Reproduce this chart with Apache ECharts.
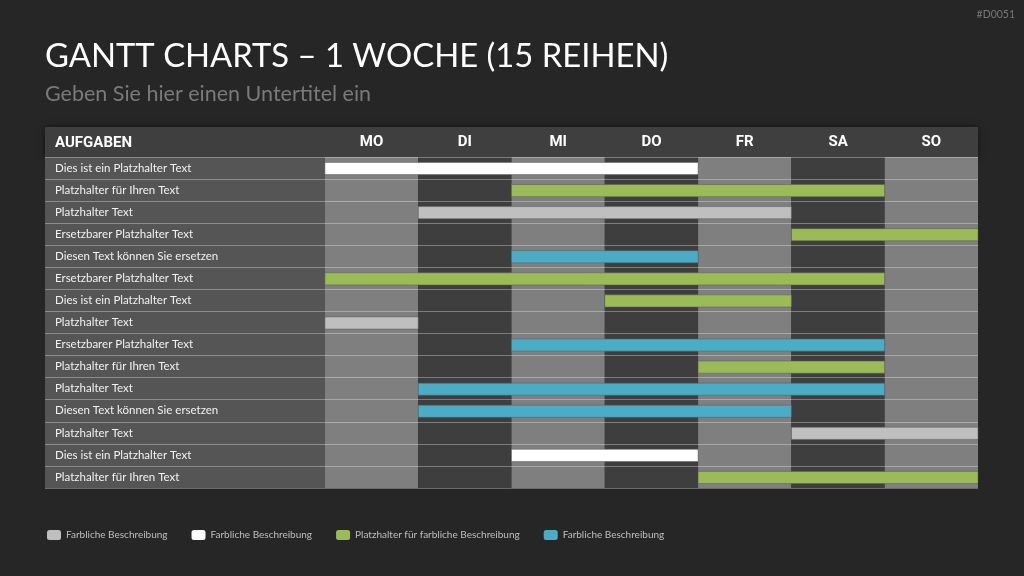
<!DOCTYPE html>
<html>
<head>
<meta charset="utf-8">
<script src="https://cdn.jsdelivr.net/npm/echarts@6/dist/echarts.min.js"></script>
<style>
html,body{margin:0;padding:0;background:#262626;}
#chart{width:1024px;height:576px;}
</style>
</head>
<body>
<div id="chart"></div>
<script>
// ---- data ----
var tasks = [
  'Dies ist ein Platzhalter Text',
  'Platzhalter für Ihren Text',
  'Platzhalter Text',
  'Ersetzbarer Platzhalter Text',
  'Diesen Text können Sie ersetzen',
  'Ersetzbarer Platzhalter Text',
  'Dies ist ein Platzhalter Text',
  'Platzhalter Text',
  'Ersetzbarer Platzhalter Text',
  'Platzhalter für Ihren Text',
  'Platzhalter Text',
  'Diesen Text können Sie ersetzen',
  'Platzhalter Text',
  'Dies ist ein Platzhalter Text',
  'Platzhalter für Ihren Text'
];
var days = ['MO', 'DI', 'MI', 'DO', 'FR', 'SA', 'SO'];
var startDay = [0, 2, 1, 5, 2, 0, 3, 0, 2, 4, 1, 1, 5, 2, 4];
var endDay   = [4, 6, 5, 7, 4, 6, 5, 1, 6, 6, 6, 5, 7, 4, 7];
var colorKey = [1, 2, 0, 2, 3, 2, 2, 0, 3, 2, 3, 3, 0, 1, 2];
var legendNames = ['Farbliche Beschreibung', 'Farbliche Beschreibung ', 'Platzhalter für farbliche Beschreibung', 'Farbliche Beschreibung  '];
var legendColors = ['#bfbfbf', '#ffffff', '#9bbb59', '#4bacc6'];
var headerLabel = 'AUFGABEN';
var labelSpan = 3; // label column width in day units

// ---- build ----
var chart = echarts.init(document.getElementById('chart'));

var bands = [[{xAxis: -labelSpan, itemStyle: {color: '#555555'}}, {xAxis: 0}]];
days.forEach(function (d, i) {
  bands.push([{xAxis: i, itemStyle: {color: i % 2 === 0 ? '#7f7f7f' : '#3e3e3e'}}, {xAxis: i + 1}]);
});

function renderBar(params, api) {
  var y = api.value(0);
  var s = api.coord([api.value(1), y]);
  var e = api.coord([api.value(2), y]);
  var h = api.size([0, 1])[1] * 0.55;
  return {
    type: 'rect',
    shape: {x: s[0], y: s[1] - h / 2 + 0.5, width: e[0] - s[0], height: h},
    style: {fill: api.visual('color'), stroke: 'rgba(90,90,90,0.5)', lineWidth: 1}
  };
}

var barSeries = legendNames.map(function (name, k) {
  var data = [];
  tasks.forEach(function (t, i) {
    if (colorKey[i] === k) data.push([i, startDay[i], endDay[i]]);
  });
  return {
    type: 'custom', name: name, z: 5,
    itemStyle: {color: legendColors[k]},
    renderItem: renderBar,
    encode: {x: [1, 2], y: 0},
    data: data
  };
});

var headFont = 'Roboto';

var option = {
  backgroundColor: '#262626',
  animation: false,
  title: [
    {text: 'GANTT CHARTS – 1 WOCHE (15 REIHEN)', left: 40, top: 35,
     textStyle: {color: '#ffffff', fontFamily: 'Lato', fontSize: 32.8, fontWeight: 'normal'}},
    {text: 'Geben Sie hier einen Untertitel ein', left: 40, top: 78,
     textStyle: {color: '#7a7a7a', fontFamily: 'Lato', fontSize: 21.5, fontWeight: 'normal'}},
    {text: '#D0051', right: 4, top: 4,
     textStyle: {color: '#777777', fontFamily: 'Lato', fontSize: 10.5, fontWeight: 'normal'}},
    {text: headerLabel, left: 50, top: 131,
     textStyle: {color: '#ffffff', fontFamily: headFont, fontSize: 15, fontWeight: 'bold'}}
  ],
  graphic: [
    {type: 'rect', left: 45, top: 127, shape: {width: 933, height: 30}, z: -1,
     style: {fill: '#3f3f3f', shadowBlur: 6, shadowColor: 'rgba(0,0,0,0.5)'}}
  ],
  legend: {
    left: 42, top: 525, itemWidth: 14, itemHeight: 10, itemGap: 24, icon: 'roundRect',
    data: legendNames,
    formatter: function (n) { return n.trim(); },
    textStyle: {color: '#bfbfbf', fontFamily: 'Lato', fontSize: 10}
  },
  grid: {left: 45, right: 46, top: 157, bottom: 88},
  xAxis: {
    type: 'value', position: 'top', min: -labelSpan, max: days.length, interval: 0.5, z: 3,
    axisLine: {show: false}, axisTick: {show: false}, splitLine: {show: false},
    axisLabel: {
      margin: 7, color: '#ffffff', fontFamily: headFont, fontSize: 15, fontWeight: 'bold',
      formatter: function (v) {
        var i = v - 0.5;
        return (i >= 0 && Math.round(i) === i && i < days.length) ? days[i] : '';
      }
    }
  },
  yAxis: {
    type: 'category', inverse: true, data: tasks, z: 3,
    axisLine: {show: false}, axisTick: {show: false},
    splitLine: {show: true, interval: 0, lineStyle: {color: 'rgba(255,255,255,0.32)', width: 1}},
    axisLabel: {inside: true, margin: 10, color: '#f2f2f2', fontFamily: 'Lato', fontSize: 11.5, interval: 0}
  },
  series: [
    {type: 'line', name: 'bg', z: 1, data: [], silent: true,
     markArea: {silent: true, data: bands}}
  ].concat(barSeries)
};
chart.setOption(option);
</script>
</body>
</html>
